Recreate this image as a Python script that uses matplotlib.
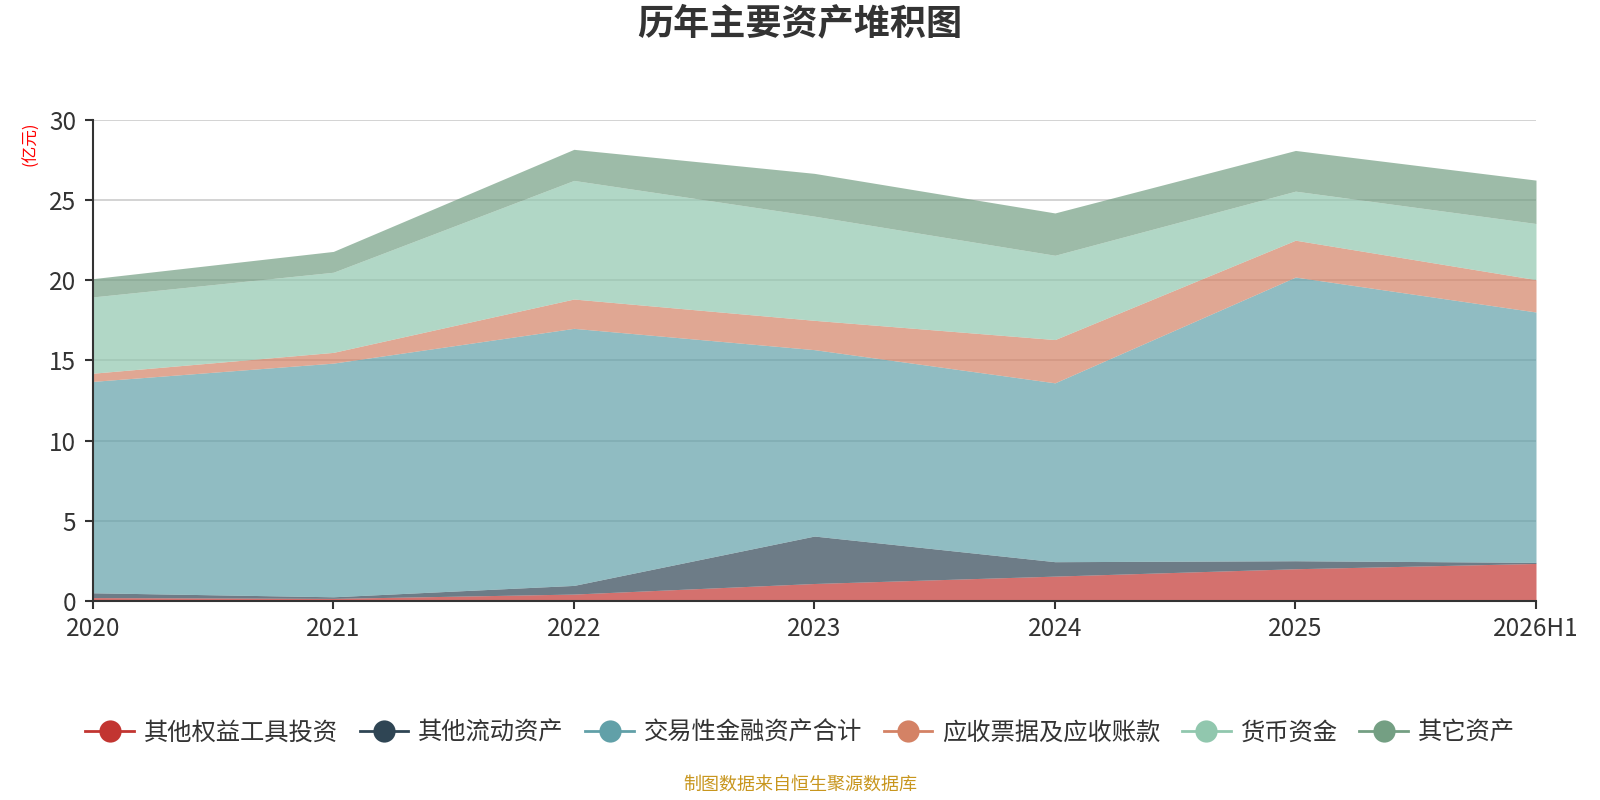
import matplotlib
matplotlib.use("Agg")
import matplotlib.pyplot as plt
from matplotlib.lines import Line2D
import numpy as np

plt.rcParams['font.family'] = ['Noto Sans CJK SC', 'DejaVu Sans']

years = ['2020', '2021', '2022', '2023', '2024', '2025', '2026H1']
series_names = ['其他权益工具投资', '其他流动资产', '交易性金融资产合计',
                '应收票据及应收账款', '货币资金', '其它资产']
other_equity = [0.20, 0.15, 0.42, 1.08, 1.54, 2.00, 2.33]
other_current = [0.30, 0.10, 0.54, 2.96, 0.90, 0.50, 0.07]
trading_fin = [13.19, 14.58, 16.04, 11.63, 11.16, 17.70, 15.62]
receivables = [0.51, 0.67, 1.83, 1.83, 2.70, 2.30, 2.02]
cash = [4.76, 5.00, 7.40, 6.50, 5.26, 3.06, 3.50]
other_assets = [1.14, 1.30, 1.94, 2.67, 2.64, 2.54, 2.71]
colors = ['#c23531', '#2f4554', '#61a0a8', '#d48265', '#91c7ae', '#749f83']

data = [other_equity, other_current, trading_fin, receivables, cash, other_assets]

fig = plt.figure(figsize=(16, 8), dpi=100)
ax = fig.add_axes([0.058, 0.249, 0.902, 0.601])

x = np.arange(len(years))
base = np.zeros(len(years))
for vals, c in zip(data, colors):
    top = base + np.array(vals)
    ax.fill_between(x, base, top, color=c, alpha=0.7, linewidth=0, zorder=2)
    base = top

ax.set_xlim(0, len(years) - 1)
ax.set_ylim(0, 30)
ax.set_yticks([0, 5, 10, 15, 20, 25, 30])
ax.set_xticks(x)
ax.set_xticklabels(years)
ax.yaxis.grid(True, color='#cccccc', linewidth=1.2, zorder=1)
ax.set_axisbelow(True)
for s in ['top', 'right']:
    ax.spines[s].set_visible(False)
for s in ['left', 'bottom']:
    ax.spines[s].set_color('#333333')
    ax.spines[s].set_linewidth(1.5)
ax.tick_params(axis='both', labelsize=17.5, colors='#333333', length=6, width=1.5)
ax.tick_params(axis='x', pad=5)
ax.tick_params(axis='y', pad=6)
for lbl in ax.get_xticklabels() + ax.get_yticklabels():
    lbl.set_color('#333333')

fig.text(0.019, 0.82, '(亿元)', color='red', rotation=90, fontsize=12,
         ha='center', va='center')

fig.suptitle('历年主要资产堆积图', x=0.5, y=0.993, fontsize=26, fontweight='bold',
             color='#333333', va='top')

handles = [Line2D([0], [0], color=c, marker='o', markersize=16, linewidth=2,
                  markeredgewidth=0) for c in colors]
fig.legend(handles, series_names, loc='center', bbox_to_anchor=(0.5, 0.084),
           ncol=6, frameon=False, fontsize=17.5, handlelength=2.0,
           handletextpad=0.4, columnspacing=0.9, labelcolor='#333333')

fig.text(0.5, 0.008, '制图数据来自恒生聚源数据库', color='#c8961e', fontsize=13,
         ha='center', va='bottom')

fig.savefig('out.png', dpi=100)
